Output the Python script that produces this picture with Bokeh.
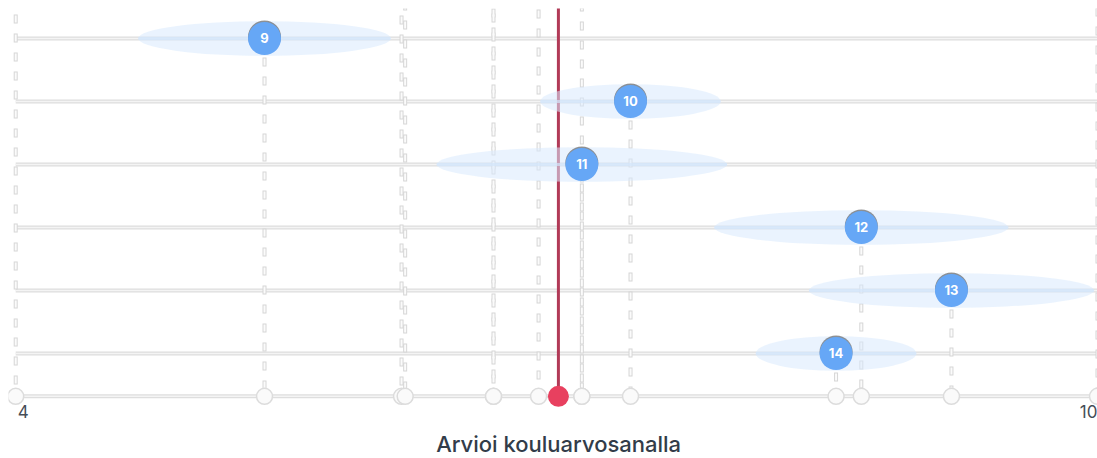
from bokeh.plotting import figure
from bokeh.models import Range1d, ColumnDataSource
from bokeh.core.properties import value
from bokeh.embed import file_html
from bokeh.resources import INLINE

# ---- data ----
row_labels = ["1", "2", "3", "4", "5", "6", "7", "8", "9", "10", "11", "12", "13", "14"]
estimates = [6.90, 6.14, 7.14, 6.65, 4.00, 6.16, 10.00, 6.65, 5.38, 7.41, 7.14, 8.69, 9.19, 8.55]
ci_widths = [1.0, 1.0, 1.0, 1.0, 1.0, 1.0, 1.0, 1.0, 1.40, 1.00, 1.61, 1.63, 1.58, 0.89]
average_value = 7.01
tick_values = [4, 10]
tick_labels = ["4", "10"]
axis_title = "Arvioi kouluarvosanalla"

# ---- layout helpers ----
rows = list(range(1, len(row_labels) + 1))
first_visible_row = 9
base_gap = 0.68
base_y = rows[-1] + base_gap
label_y = base_y + 0.24
title_y = base_y + 0.76
x_min, x_max = tick_values[0], tick_values[-1]

src = ColumnDataSource(dict(
    row=rows,
    est=estimates,
    ci=ci_widths,
    lo=[e - w / 2 for e, w in zip(estimates, ci_widths)],
    hi=[e + w / 2 for e, w in zip(estimates, ci_widths)],
    label=row_labels,
    x0=[x_min] * len(rows),
    x1=[x_max] * len(rows),
    base=[base_y] * len(rows),
    shadow=[r - 0.025 for r in rows],
))
vis = [i for i, r in enumerate(rows) if r >= first_visible_row]
src_vis = ColumnDataSource(dict(
    row=[rows[i] for i in vis],
    est=[estimates[i] for i in vis],
    label=[row_labels[i] for i in vis],
))

p = figure(width=1097, height=458,
           x_range=Range1d(x_min - 0.04, x_max),
           y_range=Range1d(start=15.667, end=8.524),
           output_backend="svg", toolbar_location=None,
           y_axis_location=None, x_axis_location=None,
           min_border_left=8, min_border_right=0,
           min_border_top=8, min_border_bottom=0)
p.outline_line_color = None
p.grid.visible = False
p.background_fill_color = "white"

# row lines
p.segment(x0="x0", x1="x1", y0="row", y1="row", source=src,
          line_color="#dedede", line_width=4)
p.segment(x0="x0", x1="x1", y0="row", y1="row", source=src,
          line_color="#f4f4f4", line_width=1.5)
# base (axis) line
p.segment(x0=[x_min], x1=[x_max], y0=[base_y], y1=[base_y],
          line_color="#dedede", line_width=4)
p.segment(x0=[x_min], x1=[x_max], y0=[base_y], y1=[base_y],
          line_color="#f4f4f4", line_width=1.5)

# dashed drop lines
p.segment(x0="est", x1="est", y0="row", y1="base", source=src,
          line_color="#d6d6d6", line_width=4, line_dash="9 10")
p.segment(x0="est", x1="est", y0="row", y1="base", source=src,
          line_color="#fbfbfb", line_width=2, line_dash="7 12", line_dash_offset=-1)

# average line
p.segment(x0=[average_value], x1=[average_value], y0=[rows[0]], y1=[base_y],
          line_color="#b13a57", line_width=3)

# confidence ellipses
p.ellipse(x="est", y="row", width="ci", height=0.55, source=src,
          fill_color="#d8e9fd", fill_alpha=0.55, line_color=None)
p.segment(x0="lo", x1="hi", y0="row", y1="row", source=src,
          line_color="#d3e5fb", line_width=3, line_alpha=0.7)

# base circles
p.scatter(x="est", y="base", source=src, size=16, marker="circle",
          fill_color="#fafafa", line_color="#dcdcdc", line_width=1.5)
p.scatter(x=[average_value], y=[base_y], size=21, marker="circle",
          fill_color="#e8405f", line_color=None)

# markers
p.scatter(x="est", y="shadow", source=src, size=33, marker="circle",
          fill_color="#3c3c3c", fill_alpha=0.55, line_color=None)
p.scatter(x="est", y="row", source=src, size=33, marker="circle",
          fill_color="#66a7f6", line_color=None)
p.text(x="est", y="row", text="label", source=src_vis,
       text_align="center", text_baseline="middle",
       text_color="white", text_font=value("Inter"),
       text_font_size="13px", text_font_style="bold")

# tick labels
p.text(x=[tick_values[0]], y=[label_y], text=[tick_labels[0]],
       text_align="left", text_baseline="middle", x_offset=2,
       text_color="#454d57", text_font=value("Inter"), text_font_size="17px")
p.text(x=[tick_values[-1]], y=[label_y], text=[tick_labels[-1]],
       text_align="right", text_baseline="middle",
       text_color="#454d57", text_font=value("Inter"), text_font_size="17px")

# axis title
p.text(x=[(x_min + x_max) / 2], y=[title_y], text=[axis_title],
       text_align="center", text_baseline="middle", x_offset=2,
       text_color="#323c49", text_font=value("Inter Medium, Inter"),
       text_font_size="22px")

open("out.html", "w").write(file_html(p, INLINE))
